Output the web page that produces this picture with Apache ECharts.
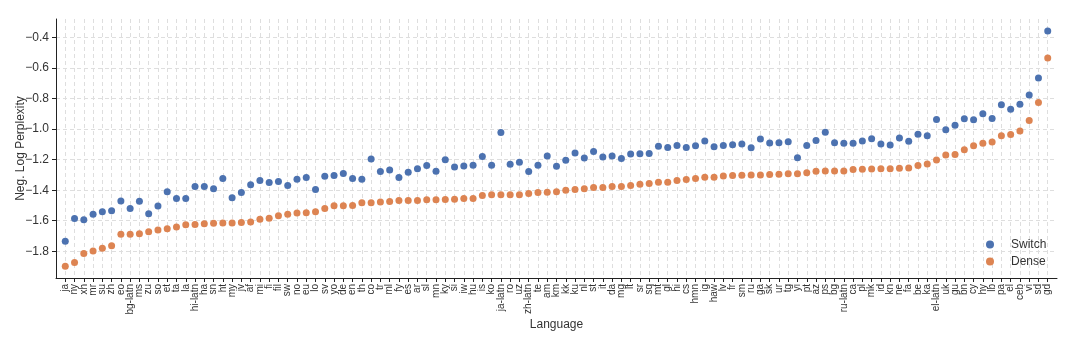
<!DOCTYPE html>
<html>
<head>
<meta charset="utf-8">
<script src="https://cdn.jsdelivr.net/npm/echarts@6/dist/echarts.min.js"></script>
<style>
  html, body { margin: 0; padding: 0; background: #fff; }
  #chart { width: 1071px; height: 343px; }
</style>
</head>
<body>
<div id="chart"></div>
<script>
// Languages, ordered by the dense model's score
const languages = [
  'ja','ny','xh','mr','su','zh','eo','bg-latn','ms','zu','so','et','ta','la','hi-latn','ha','sn','ht','my','jv',
  'af','mi','fi','fil','sw','no','eu','lo','sv','yo','de','en','th','co','tr','ml','fy','es','ar','sl',
  'mn','ky','si','iw','hu','is','ko','ja-latn','ro','uz','zh-latn','te','am','km','kk','ku','nl','st','it','da',
  'mg','lt','sr','sq','mt','gl','hi','cs','hmn','ig','haw','lv','fr','sm','ru','ga','sk','ur','tg','yi',
  'pt','az','ps','bg','ru-latn','ca','pl','mk','id','kn','ne','fa','be','ka','el-latn','uk','gu','bn','cy','hy',
  'lb','pa','el','ceb','vi','sd','gd'
];

const switchScores = [
  -1.735,-1.585,-1.594,-1.557,-1.541,-1.535,-1.470,-1.520,-1.472,-1.554,-1.504,-1.411,-1.454,-1.454,-1.376,-1.376,-1.391,-1.324,-1.450,-1.415,
  -1.365,-1.337,-1.350,-1.343,-1.370,-1.328,-1.317,-1.396,-1.309,-1.304,-1.291,-1.324,-1.328,-1.196,-1.278,-1.267,-1.317,-1.283,-1.259,-1.239,
  -1.276,-1.200,-1.248,-1.241,-1.237,-1.180,-1.237,-1.022,-1.230,-1.217,-1.278,-1.237,-1.176,-1.243,-1.204,-1.157,-1.189,-1.146,-1.183,-1.176,
  -1.193,-1.163,-1.161,-1.159,-1.113,-1.120,-1.107,-1.120,-1.109,-1.078,-1.115,-1.107,-1.102,-1.098,-1.122,-1.065,-1.091,-1.089,-1.083,-1.187,
  -1.107,-1.074,-1.020,-1.089,-1.093,-1.093,-1.078,-1.063,-1.098,-1.104,-1.059,-1.080,-1.033,-1.043,-0.937,-1.004,-0.974,-0.933,-0.939,-0.900,
  -0.930,-0.841,-0.870,-0.837,-0.776,-0.665,-0.357
];

const denseScores = [
  -1.898,-1.874,-1.815,-1.798,-1.780,-1.763,-1.689,-1.689,-1.685,-1.672,-1.661,-1.652,-1.641,-1.626,-1.624,-1.620,-1.617,-1.615,-1.615,-1.611,
  -1.609,-1.591,-1.583,-1.567,-1.557,-1.550,-1.548,-1.541,-1.520,-1.502,-1.502,-1.500,-1.483,-1.483,-1.478,-1.474,-1.467,-1.467,-1.467,-1.463,
  -1.463,-1.461,-1.459,-1.454,-1.454,-1.435,-1.430,-1.430,-1.430,-1.430,-1.422,-1.415,-1.413,-1.411,-1.400,-1.396,-1.391,-1.383,-1.383,-1.376,
  -1.376,-1.370,-1.361,-1.357,-1.348,-1.348,-1.337,-1.330,-1.324,-1.315,-1.315,-1.307,-1.304,-1.302,-1.300,-1.300,-1.298,-1.296,-1.293,-1.293,
  -1.285,-1.276,-1.274,-1.274,-1.274,-1.265,-1.263,-1.261,-1.259,-1.259,-1.257,-1.254,-1.239,-1.228,-1.202,-1.170,-1.167,-1.135,-1.109,-1.093,
  -1.085,-1.043,-1.035,-1.013,-0.943,-0.826,-0.535
];

const yTicks = [-1.8, -1.6, -1.4, -1.2, -1.0, -0.8, -0.6, -0.4];

// One empty slot on each side keeps the outer points off the spines
const paddedLanguages = [''].concat(languages, ['']);
const pad = arr => [null].concat(arr, [null]);
const isLanguage = (idx, val) => val !== '';
// Labels are split across two overlaid axes (alternating slots) so the
// dense rotated labels are never dropped by overlap handling.
const oddSlot = (idx, val) => val !== '' && idx % 2 === 1;
const evenSlot = (idx, val) => val !== '' && idx % 2 === 0;

const FONT = '"Liberation Sans", Arial, sans-serif';
const gridLine = { show: true, lineStyle: { color: '#dedede', type: [4, 3], width: 1 } };
const xLabelBase = {
  showMinLabel: true,
  showMaxLabel: true,
  hideOverlap: false,
  rotate: 90,
  margin: 6,
  color: '#333',
  fontSize: 10,
  fontFamily: FONT
};

const chart = echarts.init(document.getElementById('chart'), null, { renderer: 'canvas' });
chart.setOption({
  animation: false,
  textStyle: { fontFamily: FONT },
  grid: { left: 56, right: 14, top: 19, bottom: 65, containLabel: false, outerBoundsMode: 'none' },
  xAxis: [
    {
      type: 'category',
      data: paddedLanguages,
      boundaryGap: false,
      position: 'bottom',
      name: 'Language',
      nameLocation: 'middle',
      nameGap: 41,
      nameMoveOverlap: false,
      nameTextStyle: { color: '#333', fontSize: 12, fontFamily: FONT },
      axisLine: { show: true, lineStyle: { color: '#222', width: 1 } },
      axisTick: { show: true, interval: isLanguage, length: 4, lineStyle: { color: '#222' } },
      axisLabel: Object.assign({ interval: oddSlot }, xLabelBase),
      splitLine: Object.assign({ interval: isLanguage }, gridLine)
    },
    {
      type: 'category',
      data: paddedLanguages,
      boundaryGap: false,
      position: 'bottom',
      offset: 0,
      axisLine: { show: false },
      axisTick: { show: false },
      axisLabel: Object.assign({ interval: evenSlot }, xLabelBase),
      splitLine: { show: false }
    }
  ],
  yAxis: {
    type: 'value',
    min: -1.975,
    max: -0.279,
    name: 'Neg. Log Perplexity',
    nameLocation: 'middle',
    nameGap: 29.5,
    nameMoveOverlap: false,
    nameTextStyle: { color: '#333', fontSize: 12, fontFamily: FONT },
    axisLine: { show: true, lineStyle: { color: '#222', width: 1 } },
    axisTick: { show: true, length: 4, customValues: yTicks, lineStyle: { color: '#222' } },
    axisLabel: {
      customValues: yTicks,
      margin: 7,
      color: '#333',
      fontSize: 12,
      fontFamily: FONT,
      formatter: v => v.toFixed(1).replace('-', '\u2212')
    },
    splitLine: gridLine
  },
  legend: {
    orient: 'vertical',
    left: 981,
    top: 233,
    itemWidth: 8,
    itemHeight: 8,
    itemGap: 4,
    icon: 'circle',
    textStyle: { color: '#333', fontSize: 12, fontFamily: FONT, padding: [0, 0, 0, 12], lineHeight: 13 },
    data: ['Switch', 'Dense']
  },
  series: [
    {
      name: 'Switch',
      type: 'scatter',
      xAxisIndex: 0,
      symbolSize: 7,
      itemStyle: { color: '#4C72B0', opacity: 1 },
      data: pad(switchScores),
      z: 3
    },
    {
      name: 'Dense',
      type: 'scatter',
      xAxisIndex: 0,
      symbolSize: 7,
      itemStyle: { color: '#DD8452', opacity: 1 },
      data: pad(denseScores),
      z: 3
    }
  ]
});
</script>
</body>
</html>
